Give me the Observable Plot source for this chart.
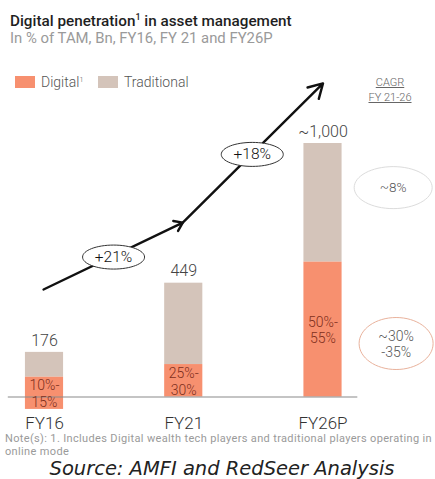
<!DOCTYPE html>
<html>
<head>
<meta charset="utf-8">
<script src="https://cdn.jsdelivr.net/npm/d3@7"></script>
<script src="https://cdn.jsdelivr.net/npm/@observablehq/plot@0.6"></script>
<style>
  body { margin: 0; background: #fff; font-family: Roboto, "Noto Sans", sans-serif; }
  #wrap { position: relative; width: 435px; height: 479px; overflow: hidden; }
  .abs { position: absolute; white-space: nowrap; }
  #chart { position: absolute; left: 0; top: 50px; }
</style>
</head>
<body>
<div id="wrap">
  <div id="title" class="abs" style="left:10px;top:13px;font-size:15px;line-height:16px;color:#1f1f1f;font-weight:500;">Digital penetration<sup style="font-size:9px;vertical-align:6px;line-height:0">1</sup> in asset management</div>
  <div id="subtitle" class="abs" style="left:10px;top:31px;font-size:14px;line-height:15px;color:#9a9a9a;">In % of TAM, Bn, FY16, FY 21 and FY26P</div>
  <div id="chart"></div>
  <div id="legend"></div>
  <div class="abs" style="left:360px;top:75px;width:60px;text-align:center;font-size:11px;line-height:15px;color:#666;text-decoration:underline;font-weight:300;">CAGR<br>FY 21-26</div>
  <div id="note1" class="abs" style="left:5px;top:431.5px;font-size:11px;line-height:13px;color:#9a9a9a;">Note(s): 1. Includes Digital wealth tech players and traditional players operating in</div>
  <div id="note2" class="abs" style="left:5px;top:444.5px;font-size:11px;line-height:13px;color:#9a9a9a;">online mode</div>
  <div id="source" class="abs" style="left:57px;top:458px;font-size:18px;line-height:22px;font-style:italic;font-family:'DejaVu Sans',sans-serif;color:#222;">Source: AMFI and RedSeer Analysis</div>
</div>
<script>
// ---- data ----
const categories = ["FY16", "FY21", "FY26P"];
const totals = [176, 449, 1000];
const totalLabels = ["176", "449", "~1,000"];
const digitalBase = [-49, 0, 0];
const digitalTop = [78, 128, 532];
const digitalLabels = ["10%-\n15%", "25%-\n30%", "50%-\n55%"];
const seriesNames = ["Digital¹", "Traditional"];
const seriesColors = ["#f7906f", "#d4c4ba"];
// trend arrow (index position, value)
const trendX = [-0.007, 0.993, 2.0];
const trendY = [424, 688, 1237];
const cagrX = [0.496, 1.492];
const cagrY = [552, 957];
const cagrLabels = ["+21%", "+18%"];
const segCagrX = [2.504, 2.525];
const segCagrY = [826, 211];
const segCagrLabels = ["~8%", "~30%\n-35%"];

// ---- build tables ----
const bars = categories.map((c, i) => ({
  i, c, total: totals[i], totalLabel: totalLabels[i],
  base: digitalBase[i], top: digitalTop[i], label: digitalLabels[i],
  mid: (digitalBase[i] + digitalTop[i]) / 2
}));
const segments = trendX.slice(1).map((x, k) => ({
  x1: trendX[k], y1: trendY[k], x2: x, y2: trendY[k + 1]
}));
const cagr = cagrLabels.map((t, k) => ({x: cagrX[k], y: cagrY[k], t}));
const seg8 = [{x: segCagrX[0], y: segCagrY[0], t: segCagrLabels[0]}];
const seg30 = [{x: segCagrX[1], y: segCagrY[1], t: segCagrLabels[1]}];

function ellipse(rx, ry) {
  const k = 0.5523;
  return {
    draw(ctx) {
      ctx.moveTo(rx, 0);
      ctx.bezierCurveTo(rx, ry * k, rx * k, ry, 0, ry);
      ctx.bezierCurveTo(-rx * k, ry, -rx, ry * k, -rx, 0);
      ctx.bezierCurveTo(-rx, -ry * k, -rx * k, -ry, 0, -ry);
      ctx.bezierCurveTo(rx * k, -ry, rx, -ry * k, rx, 0);
      ctx.closePath();
    }
  };
}

const hw = 0.137;
const plot = Plot.plot({
  width: 435,
  height: 385,
  marginLeft: 0,
  marginRight: 0,
  marginTop: 0,
  marginBottom: 20,
  style: {fontFamily: "Roboto, sans-serif", background: "transparent", overflow: "visible"},
  x: {type: "linear", domain: [0, 2], range: [44, 322.5]},
  y: {domain: [0, 1000], range: [346.5, 93]},
  marks: [
    Plot.rectY(bars, {x1: d => d.i - hw, x2: d => d.i + hw, y1: "top", y2: "total", fill: seriesColors[1]}),
    Plot.rectY(bars, {x1: d => d.i - hw, x2: d => d.i + hw, y1: "base", y2: "top", fill: seriesColors[0]}),
    Plot.ruleY([0], {x1: -0.26, x2: 2.25, stroke: "#8a8a8a", strokeWidth: 1.2}),
    Plot.text(bars, {x: "i", y: "total", text: "totalLabel", dy: -12, fontSize: 16, fontWeight: 300, fill: "#444"}),
    Plot.text(bars, {x: "i", y: "mid", text: "label", fontSize: 14, fontWeight: 300, lineHeight: 1.2, fill: "#7e2f1c"}),
    Plot.arrow(segments.slice(0, 1), {x1: "x1", y1: "y1", x2: "x2", y2: "y2", stroke: "#111", strokeWidth: 2.4, headLength: 6, headAngle: 70}),
    Plot.arrow(segments.slice(1), {x1: "x1", y1: "y1", x2: "x2", y2: "y2", stroke: "#111", strokeWidth: 2.4, headLength: 10, headAngle: 60}),
    Plot.dot(cagr, {x: "x", y: "y", symbol: ellipse(31, 12), r: 10, fill: "white", stroke: "#333", strokeWidth: 1}),
    Plot.text(cagr, {x: "x", y: "y", text: "t", fontSize: 15.5, fontWeight: 300, fill: "#111"}),
    Plot.dot(seg8, {x: "x", y: "y", symbol: ellipse(39, 21), r: 10, fill: "white", stroke: "#dcdcdc", strokeWidth: 1}),
    Plot.text(seg8, {x: "x", y: "y", text: "t", fontSize: 13.5, fontWeight: 300, fill: "#555"}),
    Plot.dot(seg30, {x: "x", y: "y", symbol: ellipse(37, 26), r: 10, fill: "white", stroke: "#e9b29c", strokeWidth: 1}),
    Plot.text(seg30, {x: "x", y: "y", text: "t", fontSize: 14, fontWeight: 300, lineHeight: 1.15, fill: "#555"}),
    Plot.axisX({ticks: [0, 1, 2], tickFormat: i => categories[i], tickSize: 0, tickPadding: 1, fontSize: 17, fontWeight: 300, color: "#333", label: null}),
    Plot.axisY({ticks: []})
  ]
});
document.getElementById("chart").appendChild(plot);

// legend
const legend = document.getElementById("legend");
const legendPos = [{sw: 15, tx: 41}, {sw: 98, tx: 124}];
seriesNames.forEach((n, k) => {
  const sw = document.createElement("div");
  sw.className = "abs";
  sw.style.cssText = `left:${legendPos[k].sw}px;top:76px;width:20px;height:12px;background:${seriesColors[k]};`;
  legend.appendChild(sw);
  const t = document.createElement("div");
  t.className = "abs";
  t.style.cssText = `left:${legendPos[k].tx}px;top:75px;font-size:14px;line-height:14px;color:#555;font-weight:300;`;
  t.innerHTML = n.replace("¹", '<sup style="font-size:7px;vertical-align:5px;line-height:0">1</sup>');
  legend.appendChild(t);
});

// fit text widths to the reference spans
function fitWidth(id, target, centerX) {
  const el = document.getElementById(id);
  const w = el.getBoundingClientRect().width;
  const fs = parseFloat(el.style.fontSize);
  el.style.fontSize = (fs * target / w).toFixed(2) + "px";
  if (centerX !== undefined) {
    const w2 = el.getBoundingClientRect().width;
    el.style.left = (centerX - w2 / 2) + "px";
  }
}
function fitSpacing(id, target) {
  const el = document.getElementById(id);
  const w = el.getBoundingClientRect().width;
  const n = el.textContent.length;
  const ls = (target - w) / n;
  el.style.letterSpacing = ls.toFixed(3) + "px";
  return ls;
}
fitWidth("title", 282);
fitWidth("subtitle", 263);
const ls = fitSpacing("note1", 427);
document.getElementById("note2").style.letterSpacing = ls.toFixed(3) + "px";
fitWidth("source", 345, 222);
</script>
</body>
</html>
